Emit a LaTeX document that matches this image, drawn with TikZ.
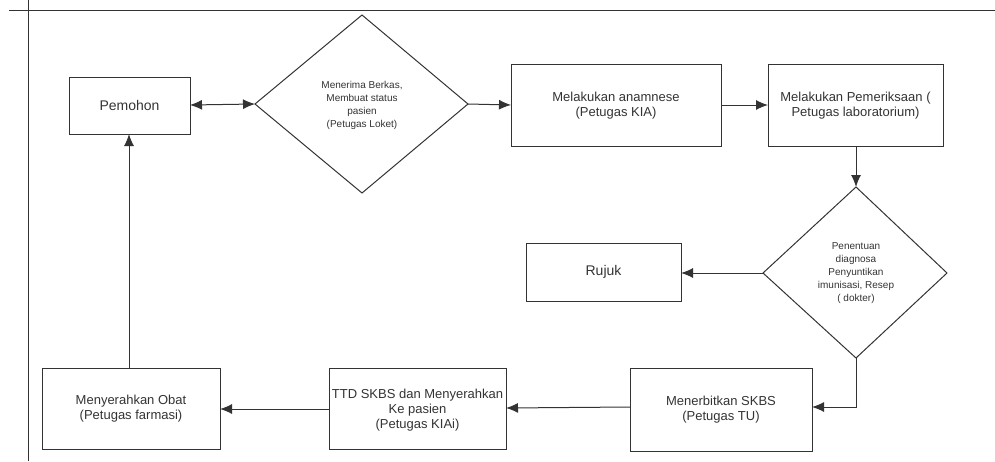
\documentclass[tikz,border=0pt]{standalone}
\usepackage{fontspec}
\setmainfont{Liberation Sans}
\usetikzlibrary{arrows.meta,shapes.geometric}
\definecolor{ink}{HTML}{333333}
\tikzset{
  x=1pt,y=-1pt,
  tip/.tip={Latex[length=12pt,width=10pt]},
  line/.style={draw=ink,line width=1pt},
  conn/.style={draw=ink,line width=1pt,-tip},
  boxtxt/.style={text=ink,font=\fontsize{13}{15}\selectfont,align=center},
  bigtxt/.style={text=ink,font=\fontsize{14}{16}\selectfont,align=center},
  dtxt/.style={text=ink,font=\fontsize{10}{12.8}\selectfont,align=center},
}
\begin{document}
\begin{tikzpicture}
\useasboundingbox (0,0) rectangle (995,461);
% frame lines
\draw[line] (9,10) -- (995,10);
\draw[line] (28,0) -- (28,461);
% boxes
\draw[line] (69,77) rectangle (190,134);
\node[bigtxt] (pem) at (129.5,105.5) {Pemohon};
\coordinate (pemR) at (190,105);
\coordinate (pemB) at (129,134);

\draw[line] (362,15) -- (468,104) -- (362,193) -- (255,104) -- cycle;
\node[dtxt] (d1) at (362,105.5) {Menerima Berkas,\\Membuat status\\pasien\\ (Petugas Loket)};
\coordinate (d1L) at (255,104);
\coordinate (d1R) at (468,104);

\draw[line] (511,64) rectangle (721,146);
\node[boxtxt] (ana) at (616,105.5) {Melakukan anamnese\\(Petugas KIA)};
\coordinate (anaL) at (511,105);
\coordinate (anaR) at (721,105);

\draw[line] (768,64) rectangle (943,146);
\node[boxtxt] (lab) at (855.5,105.5) {Melakukan Pemeriksaan (\\Petugas laboratorium)};
\coordinate (labL) at (768,105);
\coordinate (labB) at (856,146);

\draw[line] (856,187) -- (947,273) -- (856,358) -- (763,273) -- cycle;
\node[dtxt] (d2) at (856,273) {Penentuan\\diagnosa\\Penyuntikan\\imunisasi, Resep\\( dokter)};
\coordinate (d2T) at (856,187);
\coordinate (d2L) at (763,273);
\coordinate (d2B) at (856,358);

\draw[line] (526,243) rectangle (681,301);
\node[bigtxt] (rujuk) at (603.5,272) {Rujuk};
\coordinate (rujR) at (681,273);

\draw[line] (42,368) rectangle (220,449);
\node[boxtxt] (obat) at (131,409) {Menyerahkan Obat\\(Petugas farmasi)};
\coordinate (obatT) at (129,368);
\coordinate (obatR) at (220,409);

\draw[line] (329,368) rectangle (506,449);
\node[boxtxt] (ttd) at (417.5,410) {TTD SKBS dan Menyerahkan\\Ke pasien\\(Petugas KIAi)};
\coordinate (ttdL) at (329,409);
\coordinate (ttdR) at (506,408);

\draw[line] (630,368) rectangle (812,451);
\node[boxtxt] (tu) at (721,410) {Menerbitkan SKBS\\(Petugas TU)};
\coordinate (tuL) at (630,407);
\coordinate (tuR) at (812,407);

% connectors
\draw[line,tip-tip] (pemR) -- (d1L);
\draw[conn] (d1R) -- (anaL);
\draw[conn] (anaR) -- (labL);
\draw[conn] (labB) -- (d2T);
\draw[conn] (d2L) -- (rujR);
\draw[conn] (d2B) |- (tuR);
\draw[conn] (tuL) -- (ttdR);
\draw[conn] (ttdL) -- (obatR);
\draw[conn] (obatT) -- (pemB);
\end{tikzpicture}
\end{document}
